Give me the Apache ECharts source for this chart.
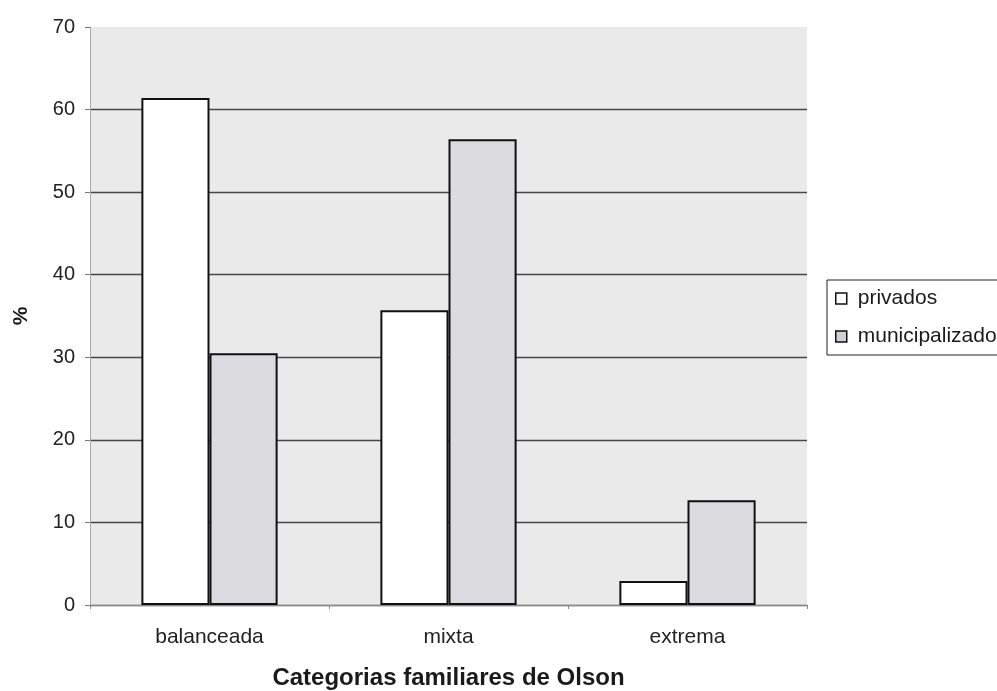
<!DOCTYPE html>
<html>
<head>
<meta charset="utf-8">
<script src="https://cdn.jsdelivr.net/npm/echarts@6/dist/echarts.min.js"></script>
<style>
  html, body { margin: 0; padding: 0; background: #ffffff; }
  #chart { width: 997px; height: 691px; }
</style>
</head>
<body>
<div id="chart"></div>
<script>
// Olson family categories, percentage per school type
const categories = ['balanceada', 'mixta', 'extrema'];
const privados = [61.4, 35.7, 2.9];
const municipalizado = [30.5, 56.4, 12.7];
const yTicks = [0, 10, 20, 30, 40, 50, 60, 70];

const chart = echarts.init(document.getElementById('chart'));
const font = 'Liberation Sans, Arial, sans-serif';

// split lines for every tick except the top one
const splitColors = yTicks.map((t, i) => (i === yTicks.length - 1 ? 'rgba(0,0,0,0)' : '#474747'));

chart.setOption({
  backgroundColor: '#ffffff',
  animation: false,
  grid: {
    left: 90, right: 190, top: 27, bottom: 86,
    containLabel: false,
    outerBoundsMode: 'none',
    show: true, backgroundColor: '#eaeaea', borderWidth: 0
  },
  legend: {
    orient: 'vertical',
    left: 827, top: 280,
    padding: [8, 30, 8, 8],
    itemGap: 17,
    itemWidth: 11, itemHeight: 11,
    icon: 'rect',
    borderColor: '#222', borderWidth: 1,
    textStyle: { fontFamily: font, fontSize: 21, color: '#1a1a1a', padding: [0, 0, 0, 6] },
    data: [
      { name: 'privados', itemStyle: { color: '#ffffff', borderColor: '#111', borderWidth: 1.5 } },
      { name: 'municipalizado', itemStyle: { color: '#cfcfd4', borderColor: '#111', borderWidth: 1.5 } }
    ]
  },
  xAxis: {
    type: 'category',
    data: categories,
    name: 'Categorias familiares de Olson',
    nameLocation: 'middle',
    nameGap: 61,
    nameTextStyle: { fontFamily: font, fontSize: 24, fontWeight: 'bold', color: '#1a1a1a' },
    axisLine: { lineStyle: { color: '#888', width: 1 } },
    axisTick: { show: true, length: 4, lineStyle: { color: '#888' } },
    axisLabel: { fontFamily: font, fontSize: 21, color: '#222', margin: 22 }
  },
  yAxis: {
    type: 'value',
    min: 0, max: 70, interval: 10,
    name: '%',
    nameLocation: 'middle',
    nameRotate: 90,
    nameGap: 58,
    nameTextStyle: { fontFamily: font, fontSize: 21, fontWeight: 'bold', color: '#1a1a1a' },
    axisLine: { show: true, lineStyle: { color: '#aaa', width: 1 } },
    axisTick: { show: true, length: 5, lineStyle: { color: '#777' } },
    axisLabel: { fontFamily: font, fontSize: 20, color: '#222', margin: 15 },
    splitLine: { show: true, lineStyle: { color: splitColors, width: 1.3 } }
  },
  series: [
    {
      name: 'privados',
      type: 'bar',
      data: privados,
      barGap: '0%',
      barCategoryGap: '43%',
      itemStyle: { color: '#ffffff', borderColor: '#111', borderWidth: 2 }
    },
    {
      name: 'municipalizado',
      type: 'bar',
      data: municipalizado,
      barGap: '0%',
      barCategoryGap: '43%',
      itemStyle: { color: '#dcdbe0', borderColor: '#111', borderWidth: 2 }
    }
  ]
});
</script>
</body>
</html>
